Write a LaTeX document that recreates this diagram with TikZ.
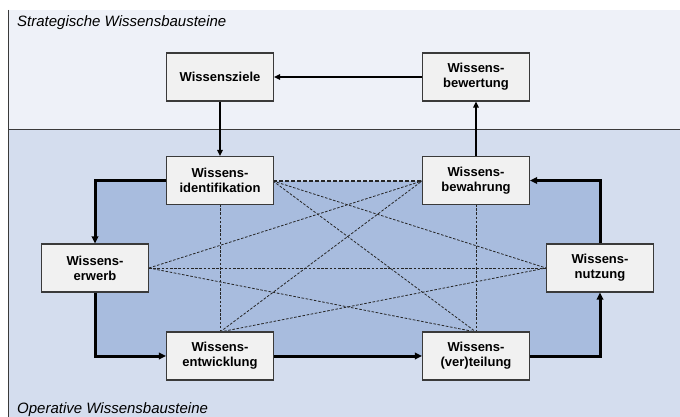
\documentclass[tikz,border=0pt]{standalone}
\usepackage{fontspec}
\setmainfont{Liberation Sans}
\usetikzlibrary{arrows.meta}
\definecolor{stratbg}{HTML}{EEF1F8}
\definecolor{opbg}{HTML}{D4DDEE}
\definecolor{loopbg}{HTML}{A8BCDE}
\definecolor{boxfill}{HTML}{F1F1F1}
\definecolor{boxline}{HTML}{3A3A3A}
\tikzset{
  block/.style={draw=boxline, line width=1.1pt, fill=boxfill, minimum width=107pt,
    minimum height=48pt, inner sep=0pt, align=center,
    font=\fontsize{13}{15}\selectfont\bfseries},
  flow/.style={line width=1.8pt, -{Triangle[length=6pt,width=5.5pt]}},
  loopflow/.style={line width=3pt, -{Triangle[length=7pt,width=6.5pt]}},
  link/.style={line width=0.8pt, dash pattern=on 2.6pt off 1.6pt, black!85},
  panellabel/.style={anchor=base west, inner sep=0pt, font=\fontsize{15}{18}\selectfont\itshape},
}
\begin{document}
\begin{tikzpicture}[x=1pt,y=-1pt]
  \useasboundingbox (0,0) rectangle (680,417);
  \clip (0,0) rectangle (680,417);
  % panels
  \fill[white] (0,0) rectangle (680,417);
  \fill[stratbg] (8,10) rectangle (690,130);
  \fill[opbg] (8,130) rectangle (690,430);
  \fill[loopbg] (95,181) rectangle (600,356);
  \draw[boxline, line width=0.9pt] (8,10) -- (8,430);
  \draw[boxline, line width=1pt] (8,130) -- (690,130);
  \node[panellabel] (strat) at (17,27) {Strategische Wissensbausteine};
  \node[panellabel] (oper) at (17,413) {Operative Wissensbausteine};

  % dashed links between the operative blocks
  \coordinate (ie) at (273,181);
  \coordinate (is) at (220,204);
  \coordinate (bw) at (422,181);
  \coordinate (bs) at (476,204);
  \coordinate (ee) at (149,268);
  \coordinate (nw) at (546,268);
  \coordinate (en) at (220,332);
  \coordinate (vn) at (476,332);
  \draw[link, line width=1.6pt, dash pattern=on 4pt off 2pt] (ie) -- (bw);
  \draw[link] (ie) -- (nw);
  \draw[link] (ie) -- (vn);
  \draw[link] (is) -- (en);
  \draw[link] (bs) -- (vn);
  \draw[link] (ee) -- (bw);
  \draw[link] (ee) -- (nw);
  \draw[link] (ee) -- (vn);
  \draw[link] (en) -- (bw);
  \draw[link] (en) -- (nw);

  % blocks
  \node[block] (ziele) at (220,77) {Wissensziele};
  \node[block] (bewert) at (476,77) {Wissens-\\bewertung};
  \node[block] (ident) at (220,180.5) {Wissens-\\identifikation};
  \node[block] (bewahr) at (476,180.5) {Wissens-\\bewahrung};
  \node[block] (erwerb) at (95,268) {Wissens-\\erwerb};
  \node[block] (nutz) at (600,268) {Wissens-\\nutzung};
  \node[block] (entw) at (220,356) {Wissens-\\entwicklung};
  \node[block] (verteil) at (476,356) {Wissens-\\(ver)teilung};

  % strategic connectors
  \draw[flow] (bewert) -- (ziele);
  \draw[flow] (ziele) -- (ident);
  \draw[flow] (bewahr) -- (bewert);

  % operative cycle
  \draw[loopflow] (ident.west) -| (erwerb.north);
  \draw[loopflow] (erwerb.south) |- (entw.west);
  \draw[loopflow] (entw) -- (verteil);
  \draw[loopflow] (verteil.east) -| (nutz.south);
  \draw[loopflow] (nutz.north) |- (bewahr.east);
\end{tikzpicture}
\end{document}
